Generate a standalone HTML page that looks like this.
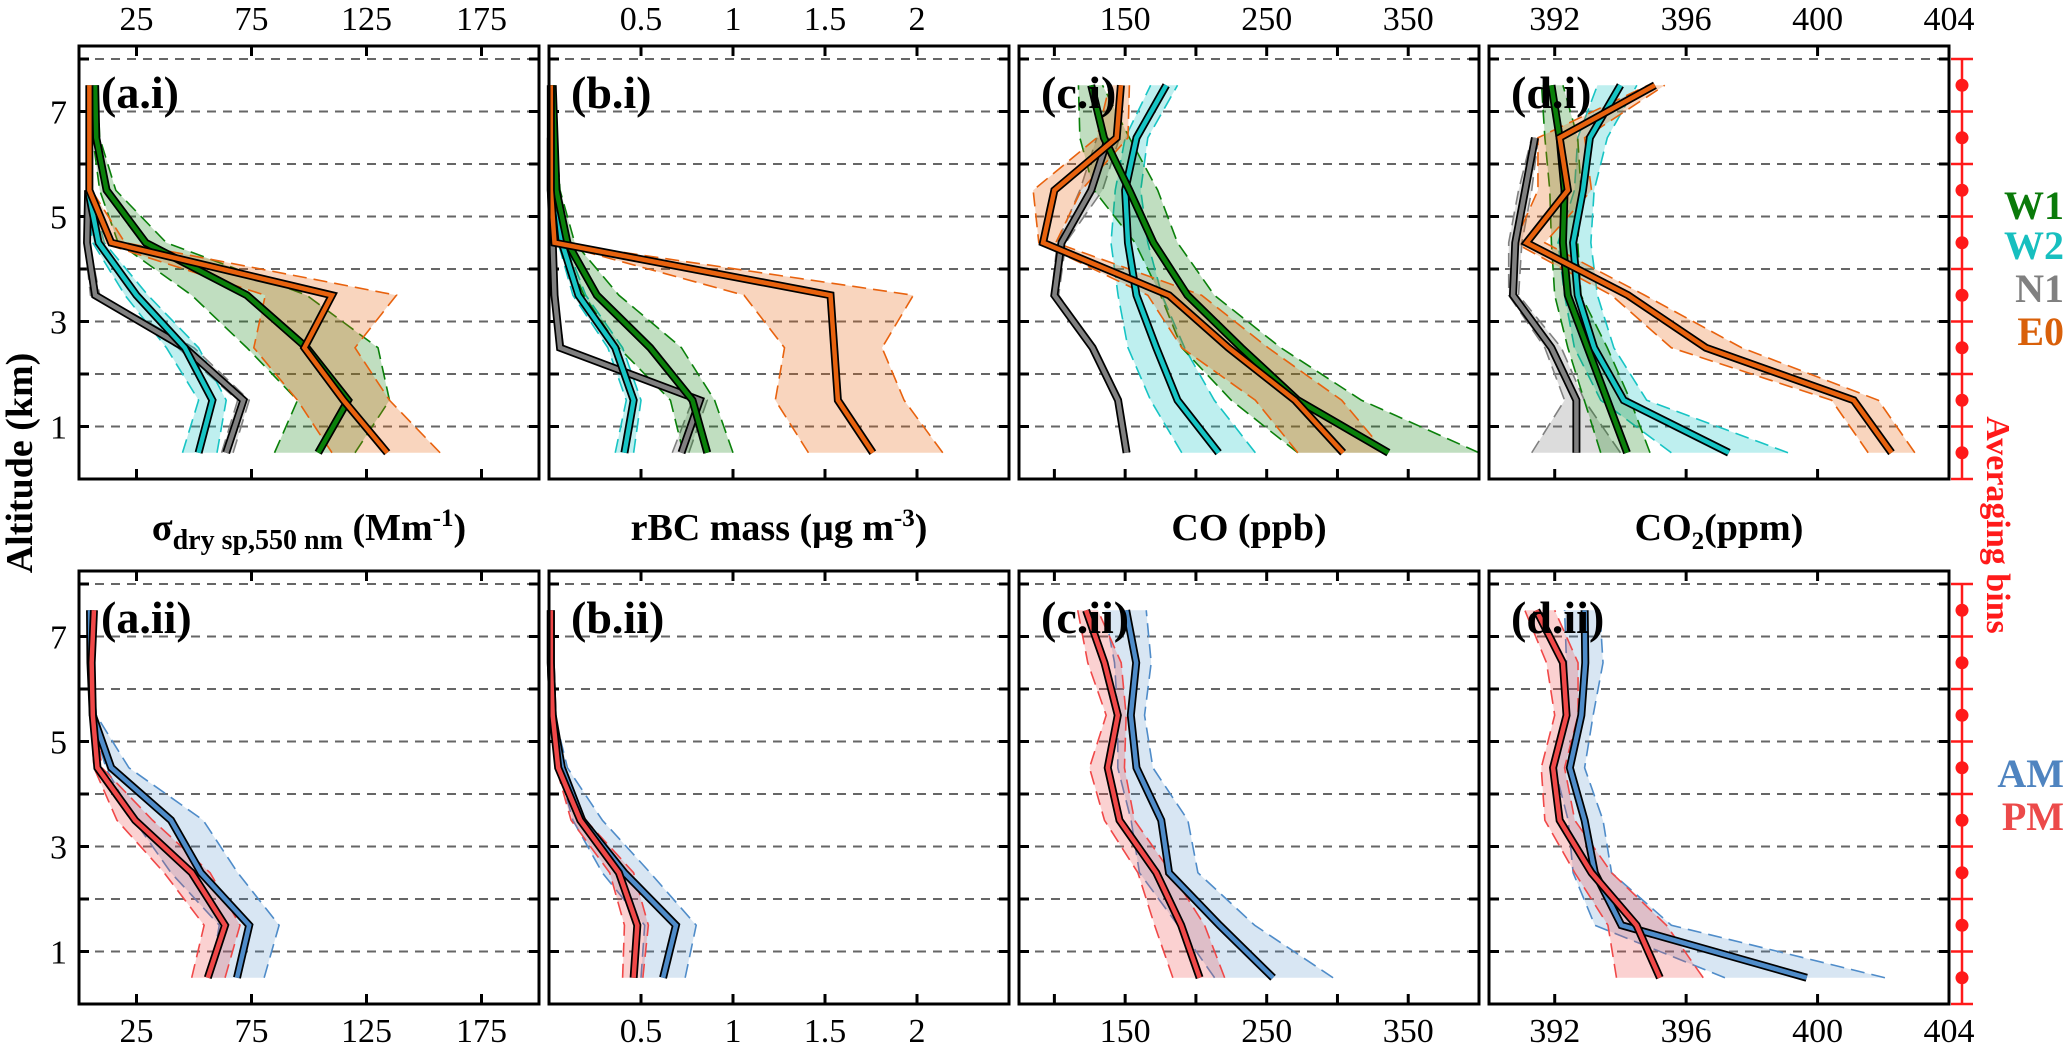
<!DOCTYPE html>
<html><head><meta charset="utf-8">
<style>
html,body{margin:0;padding:0;background:#fff;}
svg, svg text{font-family:"Liberation Serif","DejaVu Serif",serif;}
svg{display:block;}
</style></head>
<body>
<svg id="chart" width="2067" height="1054" viewBox="0 0 2067 1054" xmlns="http://www.w3.org/2000/svg" font-family="Liberation Serif, DejaVu Serif, serif">
<rect width="2067" height="1054" fill="#fff"/>
<g id="layer"></g>
<text x="0" y="0" transform="translate(32,463) rotate(-90)" text-anchor="middle" font-size="38" font-weight="bold">Altitude (km)</text>
<text x="309" y="540" text-anchor="middle" font-size="38" font-weight="bold">σ<tspan font-size="28" dy="9">dry sp,550 nm</tspan><tspan dy="-9"> (Mm</tspan><tspan font-size="25" dy="-14">-1</tspan><tspan dy="14">)</tspan></text>
<text x="779" y="540" text-anchor="middle" font-size="38" font-weight="bold">rBC mass (μg m<tspan font-size="25" dy="-14">-3</tspan><tspan dy="14">)</tspan></text>
<text x="1249" y="540" text-anchor="middle" font-size="38" font-weight="bold">CO (ppb)</text>
<text x="1719" y="540" text-anchor="middle" font-size="38" font-weight="bold">CO<tspan font-size="25" dy="9">2</tspan><tspan dy="-9">(ppm)</tspan></text>
<text x="2064" y="219" text-anchor="end" font-size="40" font-weight="bold" fill="#0a7a0a">W1</text>
<text x="2064" y="259" text-anchor="end" font-size="40" font-weight="bold" fill="#17bfbf">W2</text>
<text x="2064" y="302" text-anchor="end" font-size="40" font-weight="bold" fill="#808080">N1</text>
<text x="2064" y="345" text-anchor="end" font-size="40" font-weight="bold" fill="#d9600a">E0</text>
<text x="2064" y="787" text-anchor="end" font-size="40" font-weight="bold" fill="#4f84c0">AM</text>
<text x="2064" y="830" text-anchor="end" font-size="40" font-weight="bold" fill="#ec4a4a">PM</text>
<text x="0" y="0" transform="translate(1987,525) rotate(90)" text-anchor="middle" font-size="34" font-weight="bold" fill="#ff1a1a">Averaging bins</text>
</svg>
<script>
const alts=[0.5,1.5,2.5,3.5,4.5,5.5,6.5,7.5];
// (a.i) scattering
const aW1=[104,117,99,73,29,12,7.5,7];
const aW1lo=[85,95,73,49,17,9,6,6];
const aW1hi=[120,135,130,99,38,16,9,8];
const aW2=[52,58,46,25,8.5,4,null,null];
const aW2lo=[45,52,38,20,6,3,null,null];
const aW2hi=[60,64,52,30,11,5,null,null];
const aN1=[64,71.5,46,7,3.5,4,null,null];
const aN1lo=[62,69,43,5,2.5,3,null,null];
const aN1hi=[67,74,50,9,4.5,5,null,null];
const aE0=[134,115,98,110,14,4.5,4.5,4.5];
const aE0lo=[110,95,76,81,10,3.5,3.5,3.5];
const aE0hi=[157,135,120,138,20,5.5,5.5,5.5];
// (b.i) rBC
const bW1=[0.86,0.78,0.55,0.26,0.1,0.04,0.03,0.02];
const bW1lo=[0.73,0.66,0.38,0.19,0.07,0.03,0.02,0.01];
const bW1hi=[1.0,0.9,0.72,0.38,0.14,0.06,0.04,0.03];
const bW2=[0.41,0.46,0.36,0.16,0.07,0.04,null,null];
const bW2lo=[0.36,0.42,0.32,0.13,0.05,0.03,null,null];
const bW2hi=[0.46,0.5,0.4,0.2,0.09,0.05,null,null];
const bN1=[0.72,0.82,0.06,0.03,0.02,0.01,0.01,null];
const bN1lo=[0.67,0.78,0.05,0.02,0.01,0,0,null];
const bN1hi=[0.76,0.86,0.08,0.04,0.03,0.02,0.02,null];
const bE0=[1.76,1.57,1.55,1.53,0.03,0.01,0.01,0.01];
const bE0lo=[1.41,1.23,1.28,1.06,0.02,0,0,0];
const bE0hi=[2.14,1.93,1.81,1.98,0.05,0.02,0.02,0.02];
// (c.i) CO
const cW1=[336,272,232,194,170,153,135,126];
const cW1lo=[272,225,190,175,157,128,118,117];
const cW1hi=[400,317,260,213,187,173,153,134];
const cW2=[216,187,172,158,152,150,158,179];
const cW2lo=[190,168,152,145,140,143,150,168];
const cW2hi=[242,213,192,176,166,161,166,187];
const cN1=[151,145,127,100,105,126,138,null];
const cN1lo=[149,143,125,98,102,118,130,null];
const cN1hi=[153,147,129,103,108,134,146,null];
const cE0=[304,270,223,181,92,100,144,147];
const cE0lo=[272,242,190,166,89,85,130,139];
const cE0hi=[334,303,251,204,101,119,152,153];
// (d.i) CO2
const dW1=[394.2,393.6,393.0,392.4,392.25,392.3,392.15,391.9];
const dW1lo=[393.4,392.9,392.4,392.0,391.9,391.85,391.7,391.6];
const dW1hi=[394.9,394.3,393.6,392.8,392.7,392.8,392.7,392.25];
const dW2=[397.3,394.1,393.2,392.7,392.56,392.86,393.07,394.0];
const dW2lo=[395.55,393.4,392.6,392.3,392.1,392.6,392.7,393.3];
const dW2hi=[399.1,394.8,393.8,393.3,393.1,393.2,393.6,394.5];
const dN1=[392.66,392.66,391.9,390.73,390.8,391.1,391.4,null];
const dN1lo=[391.3,392.3,391.7,390.6,390.6,390.9,391.3,null];
const dN1hi=[394.0,392.9,392.2,390.9,391.0,391.3,391.5,null];
const dE0=[402.25,401.1,396.6,394.23,391.14,392.4,392.15,395.05];
const dE0lo=[401.54,400.43,395.55,393.73,390.78,391.49,391.49,394.84];
const dE0hi=[402.96,401.85,397.69,394.74,391.7,393.12,392.91,395.35];
// (a.ii)-(d.ii) AM / PM
const aAM=[68.7,74,53,40,14,6,5,4.8];
const aAMlo=[57,61,40,24,11.7,5,4,4];
const aAMhi=[80.5,87,69,54,21.7,7.5,6,5.5];
const aPM=[56,63.5,49,24.4,8,6,5.5,6.5];
const aPMlo=[49,54.4,37,16.5,6.5,5,4.5,5.5];
const aPMhi=[63.5,70,57,32,10,7,6.5,7.5];
const bAM=[0.62,0.69,0.41,0.18,0.07,0.02,0.01,0.01];
const bAMlo=[0.5,0.52,0.29,0.13,0.05,0.01,0.005,0.005];
const bAMhi=[0.74,0.8,0.55,0.29,0.1,0.03,0.02,0.02];
const bPM=[0.46,0.48,0.38,0.17,0.05,0.02,0.01,0.01];
const bPMlo=[0.4,0.41,0.33,0.12,0.04,0.01,0.005,0.005];
const bPMhi=[0.51,0.54,0.46,0.2,0.07,0.03,0.02,0.02];
const cAM=[254.5,216.7,181,175.5,158,154,157.8,150.7];
const cAMlo=[213.2,187.3,160.1,154.2,144.8,144.8,142.5,135.4];
const cAMhi=[296.9,241.5,201.4,194.3,169.6,163.7,168.4,164.9];
const cPM=[202.6,189.6,172,146,137.7,144.8,135.4,122.4];
const cPMlo=[183.7,170.8,159,135.4,124.8,136.6,123.6,116.5];
const cPMhi=[220.3,206.1,182.5,156.6,149.5,150.7,147.2,130.7];
const dAM=[399.67,394.03,393.22,392.91,392.46,392.81,392.93,392.91];
const dAMlo=[397.18,393.22,392.56,392.41,392.0,392.36,392.36,392.3];
const dAMhi=[402.05,395.55,393.73,393.47,392.91,393.17,393.47,393.37];
const dPM=[395.2,394.49,393.12,392.15,391.95,392.36,392.25,391.44];
const dPMlo=[393.88,393.62,392.61,391.7,391.59,392.0,391.75,391.09];
const dPMhi=[396.52,395.4,393.73,392.61,392.3,392.71,392.71,392.0];
// axes
const aTicks=[25,75,125,175];
const bTicks=[0.5,1,1.5,2];
const cTicks=[100,150,200,250,300,350];
const cTickLabels=[150,250,350];
const dTicks=[392,396,400];
const dTickLabels=[392,396,400,404];
const altTicks=[1,2,3,4,5,6,7,8];
const altLabels=[1,3,5,7];
const binEdges=[0,1,2,3,4,5,6,7,8];

const NS="http://www.w3.org/2000/svg";
const FF="Liberation Serif, DejaVu Serif, serif";
const layer=document.getElementById('layer');
function mk(tag,attrs,parent){const e=document.createElementNS(NS,tag);for(const k in attrs)e.setAttribute(k,attrs[k]);if(tag==='text')e.setAttribute('font-family',FF);(parent||layer).appendChild(e);return e;}

const PW=460, PH=433, KM=52.5;
const COL={W1:'#0a800a',W2:'#17c4c4',N1:'#808080',E0:'#e8620e',AM:'#4f8cc9',PM:'#f04848'};
const FILL={W1:'rgba(10,128,10,0.26)',W2:'rgba(23,196,196,0.28)',N1:'rgba(128,128,128,0.28)',E0:'rgba(232,98,14,0.27)',AM:'rgba(79,140,201,0.22)',PM:'rgba(240,72,72,0.25)'};

function drawPanel(name,left,bottom,xmin,xmax,ticks,labels,series,title,labelTop,labelBottom,yLabels){
  const g=mk('g',{});
  
  
  const sx=v=>left+(v-xmin)/(xmax-xmin)*PW;
  const sy=a=>bottom-a*KM;
  const top=bottom-PH;
  altTicks.forEach(a=>{
    const l=mk('line',{x1:left,x2:left+PW,y1:sy(a),y2:sy(a),stroke:'#666','stroke-width':2,'stroke-dasharray':'9 7'},g);
    
    
    mk('line',{x1:left,x2:left+10,y1:sy(a),y2:sy(a),stroke:'#000','stroke-width':3},g);
    mk('line',{x1:left+PW-10,x2:left+PW,y1:sy(a),y2:sy(a),stroke:'#000','stroke-width':3},g);
  });
  ticks.forEach(t=>{
    mk('line',{x1:sx(t),x2:sx(t),y1:top,y2:top+10,stroke:'#000','stroke-width':3},g);
    mk('line',{x1:sx(t),x2:sx(t),y1:bottom-10,y2:bottom,stroke:'#000','stroke-width':3},g);
  });
  labels.forEach(t=>{
    if(labelTop){const tx=mk('text',{x:sx(t),y:30,'text-anchor':'middle','font-size':34},g);tx.textContent=t;
      
      }
    if(labelBottom){const tx=mk('text',{x:sx(t),y:1042,'text-anchor':'middle','font-size':34},g);tx.textContent=t;
      
      }
  });
  if(yLabels){altLabels.forEach(a=>{const tx=mk('text',{x:left-12,y:sy(a)+12,'text-anchor':'end','font-size':34},g);tx.textContent=a;
    
    });}
  series.forEach(s=>{
    const idx=alts.map((a,i)=>i).filter(i=>s.lo[i]!=null&&s.hi[i]!=null);
    const up=idx.map(i=>[sx(s.hi[i]),sy(alts[i])]);
    const dn=idx.slice().reverse().map(i=>[sx(s.lo[i]),sy(alts[i])]);
    const pts=up.concat(dn).map(p=>p.join(',')).join(' ');
    const p=mk('polygon',{points:pts,fill:FILL[s.k],stroke:'none'},g);
    
    
    ['lo','hi'].forEach(key=>{
      const lp=idx.map(i=>sx(s[key][i])+','+sy(alts[i])).join(' ');
      mk('polyline',{points:lp,fill:'none',stroke:COL[s.k],'stroke-width':1.6,'stroke-dasharray':'14 7'},g);
    });
  });
  series.forEach(s=>{
    const idx=alts.map((a,i)=>i).filter(i=>s.m[i]!=null);
    const lp=idx.map(i=>sx(s.m[i])+','+sy(alts[i])).join(' ');
    mk('polyline',{points:lp,fill:'none',stroke:'#000','stroke-width':8,'stroke-linejoin':'miter'},g);
    const l=mk('polyline',{points:lp,fill:'none',stroke:COL[s.k],'stroke-width':4.5,'stroke-linejoin':'miter'},g);
    
    
  });
  const fr=mk('rect',{x:left,y:top,width:PW,height:PH,fill:'none',stroke:'#000','stroke-width':3},g);
  
  
  const tl=mk('text',{x:left+22,y:top+62,'font-size':46,'font-weight':'bold'},g);
  tl.textContent=title;
  
  
}
function S(k,m,lo,hi){return {k:k,m:m,lo:lo,hi:hi};}
const L=[79,549,1019,1489];
const TOPB=479, BOTB=1004;
drawPanel('panel-a-i',L[0],TOPB,0,200,aTicks,aTicks,[S('N1',aN1,aN1lo,aN1hi),S('W2',aW2,aW2lo,aW2hi),S('W1',aW1,aW1lo,aW1hi),S('E0',aE0,aE0lo,aE0hi)],'(a.i)',true,false,true);
drawPanel('panel-b-i',L[1],TOPB,0,2.5,bTicks,bTicks,[S('N1',bN1,bN1lo,bN1hi),S('W2',bW2,bW2lo,bW2hi),S('W1',bW1,bW1lo,bW1hi),S('E0',bE0,bE0lo,bE0hi)],'(b.i)',true,false,false);
drawPanel('panel-c-i',L[2],TOPB,75,400,cTicks,cTickLabels,[S('N1',cN1,cN1lo,cN1hi),S('W2',cW2,cW2lo,cW2hi),S('W1',cW1,cW1lo,cW1hi),S('E0',cE0,cE0lo,cE0hi)],'(c.i)',true,false,false);
drawPanel('panel-d-i',L[3],TOPB,390,404,dTicks,dTickLabels,[S('N1',dN1,dN1lo,dN1hi),S('W2',dW2,dW2lo,dW2hi),S('W1',dW1,dW1lo,dW1hi),S('E0',dE0,dE0lo,dE0hi)],'(d.i)',true,false,false);
drawPanel('panel-a-ii',L[0],BOTB,0,200,aTicks,aTicks,[S('AM',aAM,aAMlo,aAMhi),S('PM',aPM,aPMlo,aPMhi)],'(a.ii)',false,true,true);
drawPanel('panel-b-ii',L[1],BOTB,0,2.5,bTicks,bTicks,[S('AM',bAM,bAMlo,bAMhi),S('PM',bPM,bPMlo,bPMhi)],'(b.ii)',false,true,false);
drawPanel('panel-c-ii',L[2],BOTB,75,400,cTicks,cTickLabels,[S('AM',cAM,cAMlo,cAMhi),S('PM',cPM,cPMlo,cPMhi)],'(c.ii)',false,true,false);
drawPanel('panel-d-ii',L[3],BOTB,390,404,dTicks,dTickLabels,[S('AM',dAM,dAMlo,dAMhi),S('PM',dPM,dPMlo,dPMhi)],'(d.ii)',false,true,false);

[TOPB,BOTB].forEach(b=>{
  const g=mk('g',{});
  
  
  mk('line',{x1:1962,x2:1962,y1:b-8*KM,y2:b,stroke:'#ff1a1a','stroke-width':2.5},g);
  binEdges.forEach(a=>mk('line',{x1:1951,x2:1973,y1:b-a*KM,y2:b-a*KM,stroke:'#ff1a1a','stroke-width':2.5},g));
  alts.forEach(a=>{const c=mk('circle',{cx:1962,cy:b-a*KM,r:6.5,fill:'#ff1a1a'},g);
    
    });
});
</script>
</body></html>
